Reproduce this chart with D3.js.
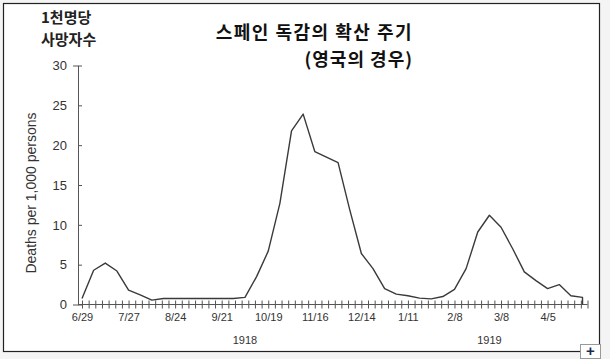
<!DOCTYPE html>
<html>
<head>
<meta charset="utf-8">
<script src="https://cdn.jsdelivr.net/npm/d3@7"></script>
<style>
  body { margin: 0; background: #f4f4f4; }
  svg { display: block; }
</style>
</head>
<body>
<svg id="chart" width="610" height="359"></svg>
<script>
// weekly deaths per 1,000 persons, starting 6/29/1918
const startDate = new Date(1918, 5, 29)
const endDate = new Date(1919, 3, 29)
const weeklyDeaths = [
  0.75, 4.3, 5.2, 4.2, 1.8, 1.2, 0.55, 0.75, 0.75, 0.75,
  0.75, 0.75, 0.75, 0.75, 0.9, 3.5, 6.7, 12.7, 21.8, 23.9,
  19.2, 18.5, 17.8, 11.9, 6.4, 4.5, 2.0, 1.3, 1.1, 0.8,
  0.7, 1.0, 1.9, 4.5, 9.1, 11.2, 9.7, 7.0, 4.1, 3.0,
  2.0, 2.5, 1.1, 0.9
]
const yTicks = [0, 5, 10, 15, 20, 25, 30]
const xLabelDates = ['6/29/1918', '7/27/1918', '8/24/1918', '9/21/1918', '10/19/1918',
  '11/16/1918', '12/14/1918', '1/11/1919', '2/8/1919', '3/8/1919', '4/5/1919']
const years = [
  { label: '1918', date: '10/5/1918' },
  { label: '1919', date: '3/1/1919' },
]

const svg = d3.select('#chart')

// frame
svg.append('rect')
  .attr('x', 3.5).attr('y', 3.5)
  .attr('width', 596).attr('height', 348)
  .attr('fill', '#fff')
  .attr('stroke', '#222')
  .attr('stroke-width', 1.2)

const x = d3.scaleTime().domain([startDate, endDate]).range([82, 587.5])
const y = d3.scaleLinear().domain([0, 30]).range([304.5, 65.5])

const data = weeklyDeaths.map((v, i) => ({ date: d3.timeWeek.offset(startDate, i), v }))
// the line drops to the baseline after the last week
data.push({ date: data[data.length - 1].date, v: 0 })

// y axis
const yAxis = svg.append('g')
  .attr('transform', 'translate(78,0)')
  .call(d3.axisLeft(y).tickValues(yTicks).tickSizeOuter(0).tickSize(5).tickPadding(6))
yAxis.select('.domain').attr('stroke', '#555')
yAxis.selectAll('.tick line').attr('x2', 4).attr('stroke', '#555')
yAxis.selectAll('.tick text')
  .attr('fill', '#333')
  .style('font-family', 'Liberation Sans, Arial, sans-serif')
  .style('font-size', '13px')

// x axis: minor ticks every 4 days
const minorTicks = d3.timeDay.every(1).range(startDate, d3.timeDay.offset(endDate, 1))
  .filter((d, i) => i % 4 === 0)
const xAxis = svg.append('g')
  .attr('transform', 'translate(0,304.5)')
  .call(d3.axisBottom(x).tickValues(minorTicks).tickFormat('').tickSizeOuter(0).tickSize(4))
xAxis.select('.domain').attr('stroke', '#555').attr('d', 'M78,0H' + x(endDate))
xAxis.selectAll('.tick line').attr('y1', -4).attr('stroke', '#555')

const parse = d3.timeParse('%m/%d/%Y')
const xLabels = svg.append('g')
  .attr('transform', 'translate(0,304.5)')
  .call(d3.axisBottom(x).tickValues(xLabelDates.map(parse))
    .tickFormat(d3.timeFormat('%-m/%-d')).tickSize(0).tickPadding(9))
xLabels.select('.domain').remove()
xLabels.selectAll('.tick text')
  .attr('fill', '#333')
  .style('font-family', 'Liberation Sans, Arial, sans-serif')
  .style('font-size', '11px')

svg.append('g').selectAll('text')
  .data(years)
  .join('text')
  .attr('x', (d) => x(parse(d.date)))
  .attr('y', 344)
  .attr('text-anchor', 'middle')
  .attr('fill', '#333')
  .style('font-family', 'Liberation Sans, Arial, sans-serif')
  .style('font-size', '11px')
  .text((d) => d.label)

// line
svg.append('path')
  .datum(data)
  .attr('fill', 'none')
  .attr('stroke', '#3a3a3a')
  .attr('stroke-width', 1.4)
  .attr('stroke-linejoin', 'round')
  .attr('d', d3.line().x((d) => x(d.date)).y((d) => y(d.v)))

// axis titles
svg.append('text')
  .attr('transform', 'translate(36,193) rotate(-90)')
  .attr('text-anchor', 'middle')
  .attr('fill', '#333')
  .style('font-family', 'Liberation Sans, Arial, sans-serif')
  .style('font-size', '14px')
  .text('Deaths per 1,000 persons')

const kr = 'Noto Sans CJK KR, sans-serif'
svg.append('text').attr('x', 41).attr('y', 23)
  .style('font-family', kr).style('font-size', '15px').style('font-weight', 'bold')
  .attr('fill', '#222').text('1천명당')
svg.append('text').attr('x', 41).attr('y', 45)
  .style('font-family', kr).style('font-size', '15px').style('font-weight', 'bold')
  .attr('fill', '#222').text('사망자수')

svg.append('text').attr('x', 413).attr('y', 39).attr('text-anchor', 'end')
  .style('font-family', kr).style('font-size', '18px').style('font-weight', 'bold')
  .style('letter-spacing', '1.5px')
  .attr('fill', '#111').text('스페인 독감의 확산 주기')
svg.append('text').attr('x', 413).attr('y', 66).attr('text-anchor', 'end')
  .style('font-family', kr).style('font-size', '18px').style('font-weight', 'bold')
  .style('letter-spacing', '1px')
  .attr('fill', '#111').text('(영국의 경우)')

// expand button at the corner
svg.append('rect')
  .attr('x', 580.5).attr('y', 344.5).attr('width', 20).attr('height', 14)
  .attr('fill', '#fff').attr('stroke', '#999')
svg.append('text').attr('x', 590.5).attr('y', 356).attr('text-anchor', 'middle')
  .style('font-family', 'Liberation Sans, Arial, sans-serif')
  .style('font-size', '15px').style('font-weight', 'bold')
  .attr('fill', '#1a2a50').text('+')
</script>
</body>
</html>
